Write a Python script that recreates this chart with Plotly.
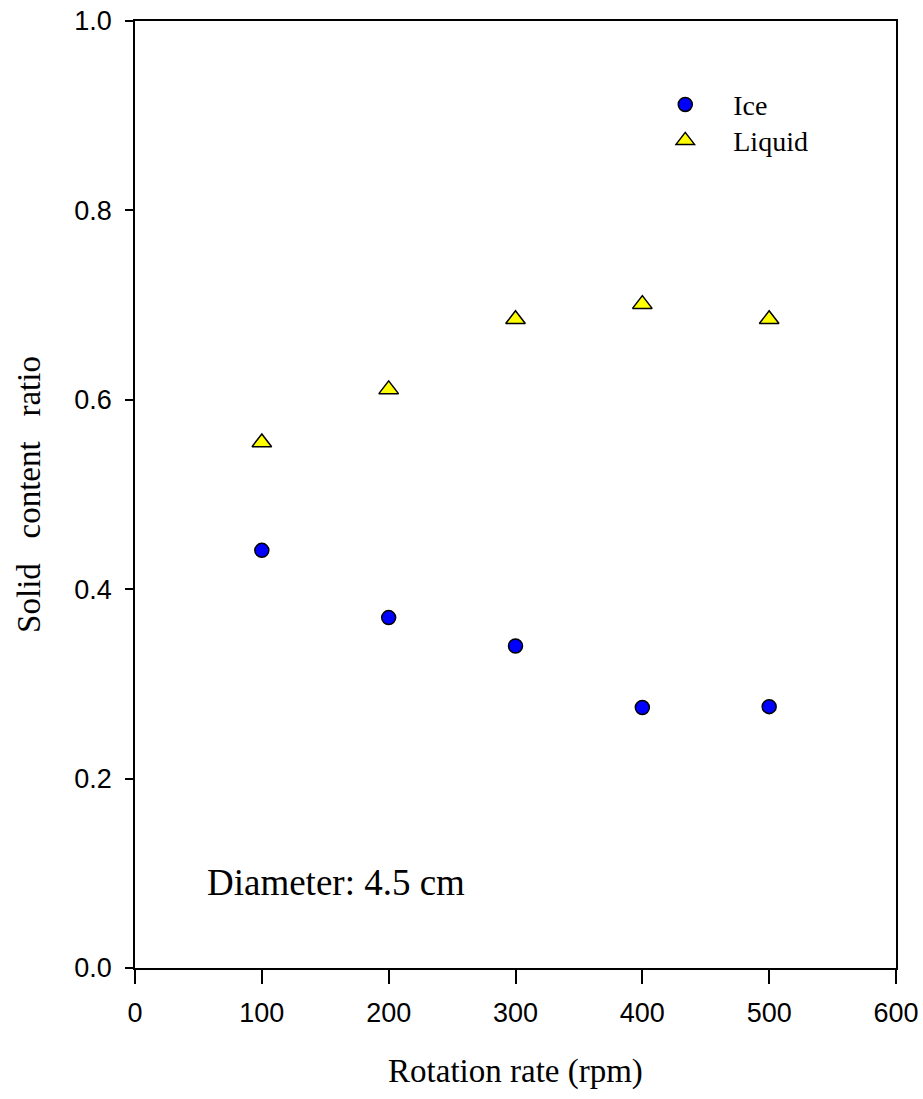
import plotly.graph_objects as go

rpm = [100, 200, 300, 400, 500]
ice = [0.441, 0.370, 0.340, 0.275, 0.276]
liquid = [0.555, 0.611, 0.685, 0.701, 0.685]

x_ticks = [0, 100, 200, 300, 400, 500, 600]
y_ticks = [0.0, 0.2, 0.4, 0.6, 0.8, 1.0]

SERIF = "Times New Roman, Liberation Serif, serif"
SANS = "Arial, Liberation Sans, sans-serif"

fig = go.Figure()
fig.add_trace(go.Scatter(
    x=rpm, y=ice, mode="markers", name="Ice", legend="legend",
    marker=dict(symbol="circle", size=14, color="#0000ff",
                line=dict(color="black", width=1.5)),
))
fig.add_trace(go.Scatter(
    x=rpm, y=liquid, mode="markers", name="Liquid", legend="legend2",
    marker=dict(symbol="triangle-up", size=17, color="#ffff00",
                line=dict(color="black", width=1.5)),
))

fig.add_annotation(
    x=55, y=0.09, xref="x", yref="y", text="Diameter: 4.5 cm",
    showarrow=False, xanchor="left", yanchor="middle",
    font=dict(family=SERIF, size=37, color="black"),
)

legend_common = dict(
    xanchor="left", yanchor="top",
    bgcolor="rgba(0,0,0,0)", borderwidth=0,
    font=dict(family=SERIF, size=28, color="black"),
    itemwidth=86,
)

fig.update_layout(
    width=923, height=1099,
    margin=dict(l=135, r=27, t=21, b=131),
    paper_bgcolor="white", plot_bgcolor="white",
    showlegend=True,
    legend=dict(x=0.66, y=0.938, **legend_common),
    legend2=dict(x=0.66, y=0.900, **legend_common),
    xaxis=dict(
        range=[0, 600], tickvals=x_ticks, ticktext=[str(v) for v in x_ticks],
        ticks="outside", ticklen=14, tickwidth=1.5, tickcolor="black",
        showline=True, linecolor="black", linewidth=1.5, mirror=True,
        showgrid=False, zeroline=False, automargin=False,
        ticklabelstandoff=6,
        tickfont=dict(family=SANS, size=27, color="black"),
        title=dict(text="Rotation rate (rpm)", standoff=32,
                   font=dict(family=SERIF, size=33, color="black")),
    ),
    yaxis=dict(
        range=[0, 1], tickvals=y_ticks, ticktext=[f"{v:.1f}" for v in y_ticks],
        ticks="outside", ticklen=8, tickwidth=1.5, tickcolor="black",
        showline=True, linecolor="black", linewidth=1.5, mirror=True,
        showgrid=False, zeroline=False, automargin=False,
        ticklabelstandoff=8,
        tickfont=dict(family=SANS, size=27, color="black"),
        title=dict(text="Solid\u00a0\u00a0 content\u00a0\u00a0 ratio", standoff=24,
                   font=dict(family=SERIF, size=33, color="black")),
    ),
)

fig.write_html("out.html")
